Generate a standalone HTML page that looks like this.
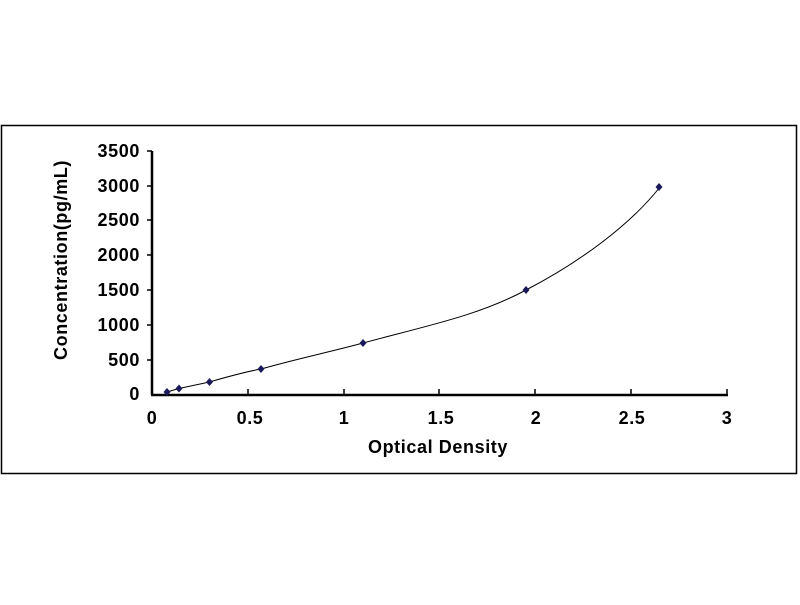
<!DOCTYPE html><html><head><style>body{margin:0;background:#fff}</style></head><body>
<svg width="800" height="600" xmlns="http://www.w3.org/2000/svg" font-family="Liberation Sans, Arial, sans-serif" font-weight="bold" font-size="18" letter-spacing="0.6">
<rect x="1.5" y="125.5" width="795" height="348" fill="#fff" stroke="#000" stroke-width="1.5"/>
<g stroke="#000" stroke-width="2.5">
<line x1="152" y1="151" x2="152" y2="395"/>
<line x1="151" y1="395" x2="728" y2="395"/>
</g>
<g stroke="#000" stroke-width="1.5">
<line x1="147" y1="151" x2="152" y2="151"/><line x1="147" y1="186" x2="152" y2="186"/><line x1="147" y1="220" x2="152" y2="220"/><line x1="147" y1="255" x2="152" y2="255"/><line x1="147" y1="290" x2="152" y2="290"/><line x1="147" y1="325" x2="152" y2="325"/><line x1="147" y1="360" x2="152" y2="360"/>
<line x1="248" y1="389" x2="248" y2="395"/><line x1="344" y1="389" x2="344" y2="395"/><line x1="439" y1="389" x2="439" y2="395"/><line x1="535" y1="389" x2="535" y2="395"/><line x1="631" y1="389" x2="631" y2="395"/><line x1="727" y1="389" x2="727" y2="395"/>
</g>
<g text-anchor="end">
<text x="140" y="157">3500</text><text x="140" y="192">3000</text><text x="140" y="226">2500</text><text x="140" y="261">2000</text><text x="140" y="296">1500</text><text x="140" y="331">1000</text><text x="140" y="366">500</text><text x="140" y="400">0</text>
</g>
<g text-anchor="middle">
<text x="152" y="424">0</text><text x="250" y="424">0.5</text><text x="344" y="424">1</text><text x="441" y="424">1.5</text><text x="536" y="424">2</text><text x="632" y="424">2.5</text><text x="727" y="424">3</text>
<text x="438" y="453">Optical Density</text>
<text transform="translate(67,260) rotate(-90)">Concentration(pg/mL)</text>
</g>
<path d="M167,392 L179,388.5 L209.5,382 C230,376 245,372 261,369 C300,358 330,352 363,343 C430,325 480,315 526,290 C580,262 630,225 660,187" fill="none" stroke="#000" stroke-width="1"/>
<g fill="#1a1a5a">
<path d="M167,388 l3.5,4 l-3.5,4 l-3.5,-4z"/>
<path d="M179,384.5 l3.5,4 l-3.5,4 l-3.5,-4z"/>
<path d="M209.5,378 l3.5,4 l-3.5,4 l-3.5,-4z"/>
<path d="M261,365 l3.5,4 l-3.5,4 l-3.5,-4z"/>
<path d="M363,339 l3.5,4 l-3.5,4 l-3.5,-4z"/>
<path d="M526,286 l3.5,4 l-3.5,4 l-3.5,-4z"/>
<path d="M659,183 l3.5,4 l-3.5,4 l-3.5,-4z"/>
</g>
</svg>
</body></html>
